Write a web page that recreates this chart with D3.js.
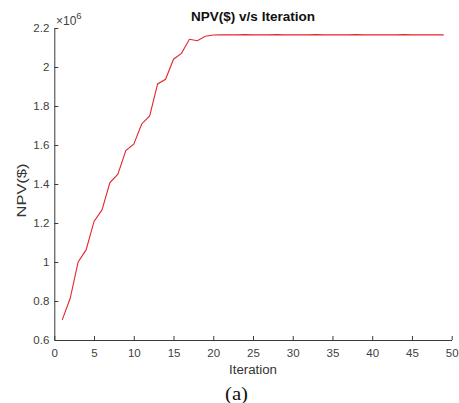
<!DOCTYPE html>
<html><head><meta charset="utf-8">
<script src="https://cdn.jsdelivr.net/npm/d3@7"></script>
<style>body{margin:0;background:#fff}svg{display:block}</style>
</head><body>
<svg id="c" width="459" height="403"></svg>
<script>
const iterations = d3.range(1, 50);
const npvValues = [
  0.703, 0.814, 1.000, 1.062, 1.208, 1.267, 1.407, 1.450, 1.572, 1.604,
  1.708, 1.749, 1.913, 1.937, 2.040, 2.070, 2.142, 2.135, 2.158, 2.164,
  2.165, 2.165, 2.165, 2.166, 2.165, 2.165, 2.165, 2.166, 2.165, 2.165,
  2.165, 2.165, 2.166, 2.165, 2.165, 2.165, 2.165, 2.166, 2.165, 2.165,
  2.165, 2.165, 2.165, 2.166, 2.165, 2.165, 2.165, 2.165, 2.165
];
const xTicks = [0,5,10,15,20,25,30,35,40,45,50];
const yTicks = [0.6,0.8,1,1.2,1.4,1.6,1.8,2,2.2];
const title = "NPV($) v/s Iteration";
const xLabel = "Iteration";
const yLabel = "NPV($)";
const caption = "(a)";

const svg = d3.select("#c");
const axisColor = "#3a3a3a";
const x = d3.scaleLinear().domain([0,50]).range([54.3,451.7]);
const y = d3.scaleLinear().domain([0.6,2.2]).range([340,28]);

const fontSans = "Liberation Sans, Arial, sans-serif";

// x axis
const gx = svg.append("g").attr("transform","translate(0,340)")
  .call(d3.axisBottom(x).tickValues(xTicks).tickSizeInner(-4).tickSizeOuter(0).tickPadding(8.5).tickFormat(d3.format("d")));
gx.select(".domain").attr("stroke",axisColor);
gx.selectAll(".tick line").attr("stroke",axisColor);
gx.selectAll("text").attr("fill","#404040").style("font-family",fontSans).style("font-size","11.5px");

// y axis
const gy = svg.append("g").attr("transform","translate(54.3,0)")
  .call(d3.axisLeft(y).tickValues(yTicks).tickSizeInner(-4).tickSizeOuter(0).tickPadding(5).tickFormat(d => d3.format("")(+d.toFixed(1))));
gy.select(".domain").attr("stroke",axisColor);
gy.selectAll(".tick line").attr("stroke",axisColor);
gy.selectAll("text").attr("fill","#404040").style("font-family",fontSans).style("font-size","11.5px");

// exponent label
const ex = svg.append("text").attr("x",56).attr("y",24.5).attr("fill","#404040")
  .style("font-family",fontSans).style("font-size","12px");
ex.append("tspan").text("\u00d710");
ex.append("tspan").attr("dy",-5.5).style("font-size","9.5px").text("6");

// line
svg.append("path").datum(iterations.map((it,i)=>[it,npvValues[i]]))
  .attr("fill","none").attr("stroke","#e3262e").attr("stroke-width",1.1)
  .attr("d", d3.line().x(d=>x(d[0])).y(d=>y(d[1])));

// title
svg.append("text").attr("x",253).attr("y",20.7).attr("text-anchor","middle")
  .attr("textLength",124).attr("lengthAdjust","spacingAndGlyphs")
  .style("font-family",fontSans).style("font-size","12.5px").style("font-weight","bold")
  .attr("fill","#111").text(title);

// x label
svg.append("text").attr("x",253).attr("y",374).attr("text-anchor","middle")
  .attr("textLength",48).attr("lengthAdjust","spacingAndGlyphs")
  .style("font-family",fontSans).style("font-size","12.5px").attr("fill","#333").text(xLabel);

// y label
svg.append("text").attr("transform","translate(26,190.5) rotate(-90)").attr("text-anchor","middle")
  .attr("textLength",54).attr("lengthAdjust","spacingAndGlyphs")
  .style("font-family",fontSans).style("font-size","13.5px").attr("fill","#333").text(yLabel);

// caption
svg.append("text").attr("x",236.5).attr("y",400).attr("text-anchor","middle")
  .attr("textLength",23).attr("lengthAdjust","spacingAndGlyphs")
  .style("font-family","Liberation Serif, Times New Roman, serif").style("font-size","18px").attr("fill","#111").text(caption);
</script>
</body></html>
